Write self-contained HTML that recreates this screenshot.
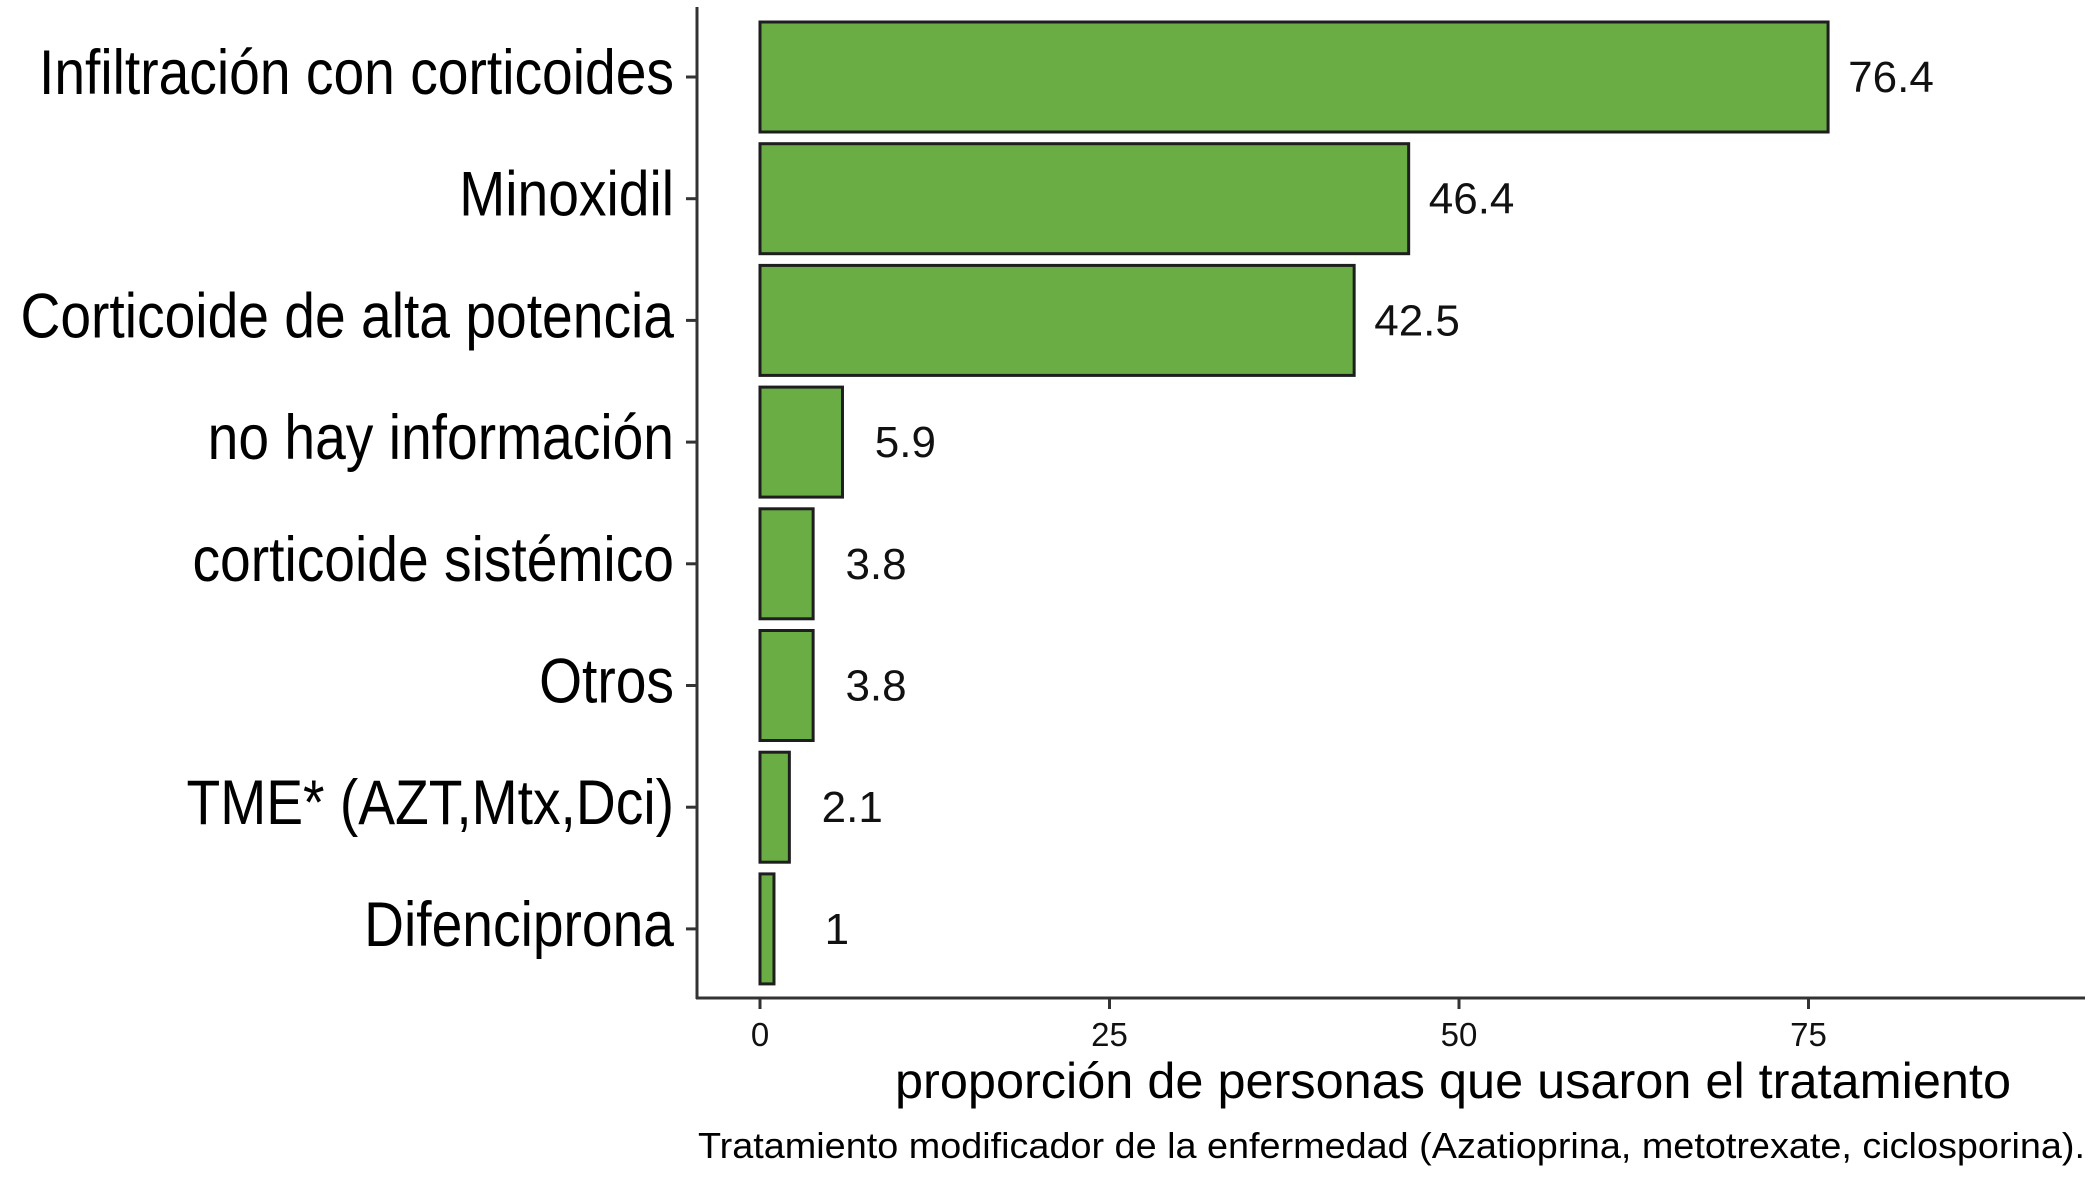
<!DOCTYPE html>
<html><head><meta charset="utf-8"><style>
html,body{margin:0;padding:0;background:#fff;}
svg{display:block;font-family:"Liberation Sans",sans-serif;}
</style></head><body>
<svg id="chart" width="2091" height="1177" viewBox="0 0 2091 1177"></svg>
<script>
const categories = ["Infiltración con corticoides","Minoxidil","Corticoide de alta potencia","no hay información","corticoide sistémico","Otros","TME* (AZT,Mtx,Dci)","Difenciprona"];
const values = [76.4, 46.4, 42.5, 5.9, 3.8, 3.8, 2.1, 1];
const valueLabels = ["76.4","46.4","42.5","5.9","3.8","3.8","2.1","1"];
const xTicks = [0, 25, 50, 75];
const xTickLabels = ["0","25","50","75"];

const NS = "http://www.w3.org/2000/svg";
const svg = document.getElementById("chart");
const x0 = 760, pxPerUnit = 13.98;
function xScale(v){ return x0 + v * pxPerUnit; }
const band0 = 77, bandStep = 121.7, barH = 110;
function yScale(i){ return band0 + i * bandStep; }
function mk(tag, attrs){ const e = document.createElementNS(NS, tag); for (const k in attrs) e.setAttribute(k, attrs[k]); svg.appendChild(e); return e; }

categories.forEach((c, i) => {
  const cy = yScale(i);
  const r = mk("rect", {x: xScale(0), y: cy - barH/2, width: xScale(values[i]) - xScale(0), height: barH, fill: "#6aad45", stroke: "#1e1e1e", "stroke-width": 3});
  
  
  const t = mk("text", {x: xScale(values[i] + 4.5), y: cy + 15, "font-size": 44, "text-anchor": "middle", fill: "#111"});
  t.textContent = valueLabels[i];
  
  
  const l = mk("text", {x: 0, y: 0, "font-size": 60, "text-anchor": "end", fill: "#000", transform: "translate(674," + (cy + 17) + ") scale(0.92,1.05)"});
  l.textContent = c;
  
  
  const tk = mk("line", {x1: 686, x2: 697, y1: cy, y2: cy, stroke: "#333", "stroke-width": 3});
  
  
});

const ya = mk("line", {x1: 697, x2: 697, y1: 7, y2: 999, stroke: "#333", "stroke-width": 3});


const xa = mk("line", {x1: 696, x2: 2085, y1: 998, y2: 998, stroke: "#333", "stroke-width": 3});



xTicks.forEach((v, i) => {
  const tk = mk("line", {x1: xScale(v), x2: xScale(v), y1: 998, y2: 1009, stroke: "#333", "stroke-width": 3});
  
  
  const t = mk("text", {x: xScale(v), y: 1046, "font-size": 33, "text-anchor": "middle", fill: "#111"});
  t.textContent = xTickLabels[i];
  
  
});

const xt = mk("text", {x: 1453, y: 1098, "font-size": 50, "text-anchor": "middle", fill: "#000", textLength: 1116, lengthAdjust: "spacingAndGlyphs"});
xt.textContent = "proporción de personas que usaron el tratamiento";



const cap = mk("text", {x: 698, y: 1158, "font-size": 36, fill: "#000", textLength: 1387, lengthAdjust: "spacingAndGlyphs"});
cap.textContent = "Tratamiento modificador de la enfermedad (Azatioprina, metotrexate, ciclosporina).";


</script>
</body></html>
